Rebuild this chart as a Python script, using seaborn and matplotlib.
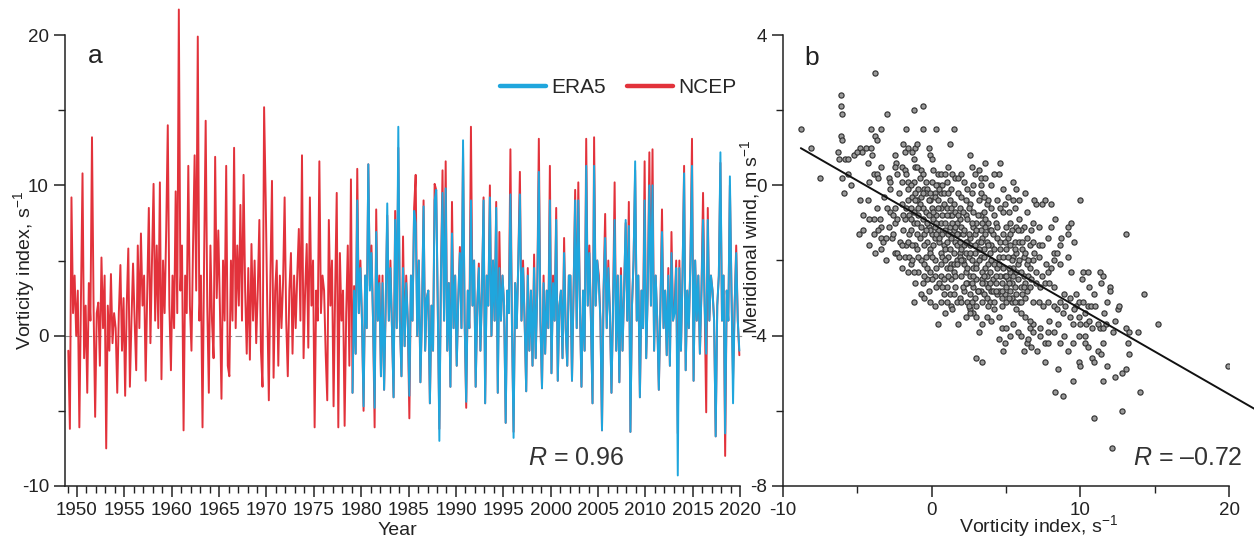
import matplotlib
matplotlib.use("Agg")
import matplotlib.pyplot as plt
from matplotlib.lines import Line2D
from matplotlib.ticker import MultipleLocator
import numpy as np
import seaborn as sns

sns.set_style("ticks")
plt.rcParams["font.family"] = ["Liberation Sans", "DejaVu Sans"]
plt.rcParams["axes.unicode_minus"] = False
plt.rcParams["mathtext.fontset"] = "custom"
plt.rcParams["mathtext.rm"] = "Liberation Sans"
plt.rcParams["mathtext.it"] = "Liberation Sans:italic"
plt.rcParams["mathtext.default"] = "regular"

RED = "#e2323b"
BLUE = "#1fa6dd"
INK = "#222222"

# vorticity index, six values per year, 1949-2019 (NCEP)
ncep_vort = [
    -1.0, -6.2, 9.2, 1.5, 4.0, 0.0,       3.0, -6.1, 2.5, 10.8, -1.5, 2.0,
    -3.8, 3.5, 1.0, 13.2, 2.0, -5.4,      1.5, 2.2, -2.0, 5.2, 0.5, 4.0,
    -7.5, 2.0, -1.0, 4.1, -0.5, 1.5,      0.5, -3.8, 1.5, 4.7, -1.0, 2.5,
    -4.0, 2.0, 5.8, -3.4, 1.0, 4.8,       1.0, -2.3, 6.0, 0.5, 6.8, 2.0,
    4.0, -3.0, 3.0, 8.5, -0.5, 5.0,       10.1, 1.0, 6.0, 0.5, 10.2, -2.9,
    5.0, 1.5, 7.0, 14.0, 2.0, -2.3,       4.0, 0.5, 9.6, 1.5, 21.7, 3.0,
    6.0, -6.3, 4.0, 1.5, 11.3, 2.0,       -1.0, 6.0, 12.0, 3.0, 19.9, 1.0,
    4.0, -6.1, 5.0, 14.3, 2.0, -3.8,      6.0, 1.0, -1.5, 11.9, 2.5, 7.0,
    2.0, -4.2, 5.0, 1.0, 11.3, -2.0,      -2.7, 5.0, 1.0, 12.5, 0.5, 6.0,
    2.0, 8.7, 1.0, 10.7, 3.0, -1.2,       4.5, -1.6, 6.1, 1.0, 5.0, -0.5,
    3.0, 7.7, -1.0, -3.4, 15.2, 9.2,      2.0, -4.3, 4.0, 10.3, -2.8, 3.0,
    5.0, -2.0, 4.0, 0.5, 3.5, 9.2,        1.0, -2.7, 3.0, 5.5, -1.2, 4.0,
    0.5, 4.0, 7.1, 1.0, 12.0, -1.5,       3.0, 6.1, -0.8, 9.2, 2.0, 5.0,
    -6.1, 3.0, 1.0, 11.6, 1.5, 4.0,       3.0, -1.2, -4.3, 7.7, 2.0, 5.0,
    -4.7, 3.0, 9.5, -6.1, 5.5, 1.0,       3.0, -6.0, 1.5, 6.0, -2.0, 10.4,
    -3.8, 3.3, -1.2, 11.1, 1.5, 5.0,      1.0, -5.0, 4.0, 0.5, 11.4, 3.3,
    6.0, 1.0, -6.1, 8.4, 1.0, 4.0,        -2.7, 4.0, -3.6, 2.0, 8.0, 1.0,
    5.0, 0.5, -4.1, 8.3, 0.5, 12.5,       1.0, -2.7, 6.6, -0.7, 4.0, 1.0,
    -5.5, 4.0, 1.0, 8.5, 10.7, 0.0,       5.0, -3.1, 1.5, 9.0, -1.0, 2.5,
    3.0, -4.5, 2.0, -1.0, 10.1, 9.7,      2.0, -6.2, 4.0, 11.0, 1.0, 11.6,
    -1.0, 3.5, -3.4, 8.9, 0.5, 4.0,       -2.0, 2.5, 5.9, 0.5, 12.5, 1.0,
    -4.8, 3.0, 0.5, 13.9, 2.0, 5.0,       -3.4, 2.0, 4.8, -1.0, 3.0, 9.2,
    -4.5, 4.0, 2.0, 10.0, 0.0, 5.0,       1.0, 8.9, -3.8, 6.9, 1.0, 4.0,
    2.0, -5.8, 3.0, 1.5, 12.4, 0.5,       -6.4, 3.5, 0.5, 5.0, 10.9, 1.0,
    5.0, 1.0, -3.7, 4.5, -1.0, 3.0,       -2.0, 5.4, -1.5, 3.0, 13.1, 1.0,
    -3.5, 4.0, -1.2, 3.0, 0.5, 11.3,      -2.5, 4.0, 1.0, 8.5, -3.0, 2.0,
    3.0, -1.5, 6.5, 0.5, -2.0, 4.0,       4.0, -3.0, 3.0, 9.7, 0.5, 10.2,
    2.0, -3.4, 3.0, -1.0, 13.1, 2.0,      6.0, 1.0, -4.5, 13.2, 2.0, 5.0,
    4.0, 1.0, -6.3, 3.0, 8.1, 0.5,        5.0, 1.5, -3.8, 2.0, 10.2, -1.0,
    4.0, -3.1, 4.5, -1.0, 3.0, 7.5,       1.0, 8.9, -6.4, 2.0, 5.0, 11.0,
    1.0, 4.0, -4.1, 3.0, 0.5, 11.6,       -1.5, 3.0, 12.2, 2.0, 12.4, -1.0,
    4.0, 1.0, -3.6, 2.0, 8.4, 0.5,        3.0, -1.3, 4.5, -2.0, 6.9, 1.0,
    2.0, 5.0, -6.5, 5.0, -1.0, 4.0,       11.3, -2.3, 3.0, 0.5, 5.0, 13.1,
    -3.0, 5.0, 1.0, 4.0, -1.2, 3.0,       9.5, 2.0, -5.1, 8.5, 1.0, 4.0,
    3.0, 1.0, -6.7, 2.0, 4.0, 11.5,       1.0, 4.0, -8.0, 3.0, 1.0, 10.0,
    3.0, -2.9, 2.0, 6.0, 1.0, -1.3,
]

# vorticity index, six values per year, 1979-2019 (ERA5)
era5_vort = [
    -3.8, 3.0, -1.2, 9.0, 1.5, 4.5,       1.0, -4.7, 4.0, 0.5, 11.4, 3.0,
    5.5, 1.0, -4.8, 6.9, 1.0, 3.5,        -2.7, 3.5, -3.6, 2.0, 8.8, 1.0,
    4.5, 0.5, -4.1, 7.7, 0.5, 13.9,       1.0, -2.7, 4.5, -0.7, 3.5, 1.0,
    -4.0, 4.0, 1.0, 8.3, 7.5, 0.0,        5.0, -3.1, 1.5, 8.6, -1.0, 2.5,
    3.0, -4.5, 2.0, -1.0, 9.0, 9.7,       2.0, -7.0, 4.0, 9.5, 1.0, 9.8,
    -1.0, 3.5, -3.4, 6.8, 0.5, 4.0,       -2.0, 2.5, 5.5, 0.5, 13.0, 1.0,
    -4.4, 3.0, 0.5, 9.0, 2.0, 5.0,        -3.4, 2.0, 4.5, -1.0, 3.0, 9.0,
    -4.5, 4.0, 2.0, 9.2, 0.0, 5.0,        1.0, 8.5, -3.8, 4.5, 1.0, 4.0,
    2.0, -5.8, 3.0, 1.5, 9.4, 0.5,        -6.8, 3.5, 0.5, 5.0, 9.4, 1.0,
    4.5, 1.0, -3.7, 4.0, -1.0, 3.0,       -2.0, 4.5, -1.5, 3.0, 10.9, 1.0,
    -3.5, 3.5, -1.2, 3.0, 0.5, 9.0,       -2.5, 3.5, 1.0, 7.7, -3.0, 2.0,
    3.0, -1.5, 5.5, 0.5, -2.0, 4.0,       4.0, -3.0, 3.0, 9.0, 0.5, 9.0,
    2.0, -3.4, 3.0, -1.0, 11.3, 2.0,      5.5, 1.0, -4.5, 11.3, 2.0, 5.0,
    3.5, 1.0, -6.3, 3.0, 6.5, 0.5,        4.5, 1.5, -3.8, 2.0, 7.7, -1.0,
    4.0, -3.1, 4.0, -1.0, 3.0, 7.7,       1.0, 7.3, -6.4, 2.0, 5.0, 11.6,
    1.0, 4.0, -4.1, 3.0, 0.5, 9.0,        -1.5, 3.0, 10.0, 2.0, 10.0, -1.0,
    4.0, 1.0, -3.6, 2.0, 6.9, 0.5,        3.0, -1.3, 4.0, -2.0, 5.5, 1.0,
    1.5, 4.5, -9.3, 4.5, -1.0, 4.0,       10.8, -2.3, 3.0, 0.5, 5.0, 11.3,
    -3.0, 5.0, 1.0, 4.0, -1.2, 3.0,       7.7, 2.0, -1.2, 7.7, 1.0, 4.0,
    3.0, 1.0, -6.7, 2.0, 4.0, 12.2,       1.0, 4.0, -6.5, 3.0, 1.0, 10.6,
    3.0, -4.5, 2.0, 5.5, 1.0, -1.0,
]

# panel b: vorticity index vs meridional wind
vort_b = [
    -8.8, -8.1, -7.5, -3.8, -6.1, -6.1, -6.0, -3.0, -1.2, -0.6,
    -4.1, -3.4, -1.7, -0.6, 0.3, 1.5, 1.2, -6.1, -6.0, -3.8,
    -3.7, -6.3, -6.2, -5.8, -5.6, -5.2, -4.8, -4.7, -5.0, -4.4,
    -4.1, -4.0, -4.3, -3.4, -3.9, -3.7, -3.6, -6.0, -5.6, -5.4,
    -5.9, -4.8, -4.3, -4.2, -3.2, -2.9, -2.8, -2.8, -2.5, -2.4,
    -2.5, -1.9, -1.8, -1.6, -1.3, -1.1, -1.0, -0.2, -0.1, 0.0,
    -2.0, -1.8, -1.7, -1.6, -2.0, -1.2, -1.1, -1.0, -0.7, -0.6,
    -0.8, -1.2, -1.4, -0.5, -0.3, 0.0, 0.4, 0.6, 0.9, 0.4,
    0.2, 0.7, 1.0, 1.4, 1.6, 1.8, 2.2, 2.4, 2.6, 2.7,
    3.2, 3.6, 3.3, 3.3, 3.6, 4.0, 4.5, 4.8, 5.5,
    -4.9, -4.6, -4.6, -3.9, -3.5, -3.4, -3.4, -3.3, -3.4, -3.1,
    -3.1, -2.8, -2.6, -2.5, -2.5, -3.0, -2.5, -2.3, -1.8, -1.7,
    -1.5, -1.4, -1.3, -1.6, -1.5, -1.4, -1.2, -1.0, -1.8, -1.7,
    -1.6, -1.4, -1.3, -1.0, -0.7, -0.4, -0.1, 0.2, 0.4, 0.6,
    -0.6, -0.4, -0.2, 0.0, 0.3, 0.6, 0.8, 1.0, -0.7, -0.5,
    -0.3, -0.1, 0.2, 0.4, 0.6, 0.9, 1.2, 1.4, 1.6, 1.8,
    2.0, -0.7, -0.4, -0.1, -1.1, -0.6, -0.7, 0.3, -0.2, 0.6,
    0.8, 1.0, 1.3, 1.5, 1.7, 1.9, 2.2, 2.4, 2.6, 2.8,
    3.0, 3.3, 3.5, 3.7, 2.6, 2.8, 3.2, 3.8, 4.4, 4.6,
    4.8, 4.9, 5.5, 5.9, 5.6, 5.9, 5.3, 5.0, 4.8, 4.3,
    3.9, 3.7, 3.5, 3.3, 3.0, 2.8, 2.6, 2.4, 2.2, 1.9,
    1.7, 1.3, 1.0, 1.4, 1.8, 0.4, -1.2, 3.0, 3.4, 2.6,
    2.8, 3.0, 3.4, 3.7, 4.2, 4.5, 4.7, 5.0, 4.9, 4.8,
    5.5, 6.0, 6.4, 6.7, 6.6, 6.5, 6.8, 7.3, 7.6, 7.8,
    7.6, 8.5, 8.3, 8.8, 9.5, 9.9, 10.0, 10.3, 10.5, 10.8,
    10.9, 11.2, 11.4, 11.5, 11.8, 11.5, 12.3, 12.8, 13.1, 12.8,
    10.9, 12.1, 14.0, 19.9, 14.3, 15.2, 10.0, 13.1, 8.3, 8.7,
    9.2, 9.4, 9.2, 9.6, 8.2, 8.4, 8.6, 9.2, 9.4, 10.2,
    10.5, 10.1, 11.3, 11.5, 11.4, 12.0, 12.0, 11.8, 12.5, 12.6,
    12.3, 11.7, 11.3, 10.8, 10.4, 10.0, 9.5, 9.3, 8.8, 8.6,
    8.9, 9.3, 9.7, 9.9, 9.7, 10.2, 10.5, 10.7, 11.0, 10.3,
    9.9, 11.2, 11.5, 13.1, 13.3, 13.9, 13.2, 13.3, 10.3, 9.9,
    9.5, 9.2, 8.6, 8.2, 7.8, 7.3, 6.8, 6.6, 6.3, 6.0,
    5.7, 5.4, 5.0, 4.7, 4.4, 4.0, 3.8, 3.6, 3.4, 6.8,
    7.2, 7.5, 7.8, 8.2, 8.4, 7.0, 7.3, 7.6, 7.9, 8.2,
    7.4, 7.7, 8.0, 8.2, 6.8, 7.2, 6.6, 6.8, 7.2, 6.4,
    6.7, 6.8, 7.4, 7.8, 6.2, 5.8, 5.5, 5.3, 6.2, 5.8,
    5.4, 5.0, 6.6, 6.4, 7.0, 7.4, 7.6, 8.0, 6.9, 5.7,
    6.2, 4.4, 4.6, 4.0, 4.5, 4.8, 5.0, 5.3, 5.6, 5.9,
    4.2, 4.4, 4.6, 3.8, 3.6, 3.4, 3.0, 2.8, 2.6, 2.4,
    2.0, 3.3, 3.5, 3.7, 3.9, 4.2, 3.8, 3.4, 2.9, 2.7,
    2.5, 2.6, 3.0, 5.4, 5.7, 5.9, 6.3, 6.4, 6.6, 6.0,
    4.9, 5.2, 5.5, 5.7, 3.8, 3.6, 3.3, 2.9, 2.6, 2.3,
    1.9, 1.7, 1.5, 1.3, 1.0, 0.8, 0.6, 0.5, 0.2, -0.1,
    -0.3, -0.5, 0.2, 0.6, 0.8, 1.0, 1.3, 1.5, 1.7, 1.9,
    2.3, 2.5, 1.9, 1.5, 1.2, 0.8, 0.5, 1.8, 2.3, 2.7,
    2.8, 3.3,
    -2.2, -2.0, -1.9, -2.1, -2.3, -1.2, -0.9, -0.8, -1.1, -0.9,
    -0.2, 0.0, 0.1, 0.3, 0.5, 0.7, 0.9, 1.1, 1.2, 1.4,
    1.6, 1.7, 2.1, 2.2, 2.0, 2.3, 2.5, 2.7, 2.9, 3.1,
    3.2, 3.4, 3.6, 3.9, 4.1, 4.2, 4.0, 3.5, 4.1, 4.3,
    4.7, 4.5, 4.9, 5.1, 5.3, 5.6, 5.1, 5.4, 5.7, 6.0,
    6.1, 6.3, 6.5, 6.1, 1.1, 1.2, 0.7, 0.3, 0.0, -0.3,
    -0.5, -0.9, -1.2, -1.6, -2.0, -2.7, -2.9, -3.7, -3.9, -4.2,
    -0.4, -0.9, -1.6, -2.3, 0.1, 1.1, 1.3, 2.0, 2.0, 2.9,
    4.2, 4.6, 5.1, 5.2, 6.4, 6.3, 7.2, 7.8, 8.0, 8.6,
    7.9, 8.5, 8.9, 9.0, 9.6, 10.6, 10.9, 10.6, 11.6, 12.2,
    3.1, 2.1, 1.6, 1.5, 0.9, 2.3, 3.2, 4.0, 4.5, 5.3,
    5.8, 6.2, 7.1, -0.1, 0.2, -0.5, 1.1, 0.3, -0.1, -1.1,
    -1.5, -1.3, -1.0, -0.8, -0.6, -0.5, -0.3, -0.2, -0.1, 0.1,
    0.1, 0.2, 0.4, 0.5, 0.7, 0.7, 0.9, 1.0, 1.1, 1.2,
    1.3, 1.4, 1.5, 1.6, 1.7, 1.8, 1.9, 2.0, 2.1, 2.1,
    2.2, 2.3, 2.4, 2.4, 2.5, 2.6, 2.7, 2.8, 2.9, 3.0,
    3.0, 3.1, 3.2, 3.3, 3.4, 3.4, 3.5, 3.6, 3.7, 3.8,
    3.9, 4.0, 4.0, 4.1, 4.2, 4.3, 4.4, 4.5, 4.6, 4.7,
    4.8, 4.9, 5.0, 5.1, 5.2, 5.3, 5.4, 5.5, 5.6, 5.7,
    5.8, 5.9, 6.0, 6.1, 6.2, 6.3, 6.5, 6.7, 6.9, 7.0,
    -0.9, -1.0, -0.4, 0.0, 0.3, 0.6, 0.9, 1.2, 1.6, 2.0,
    2.3, 2.7, 3.1, 3.5, 3.9, 4.3, 4.7, 5.2, 5.6, 6.0,
    -2.2, -1.9, -2.6, -3.6, -4.2, -3.8, -2.0, -1.4, -1.1, -0.6,
]
wind_b = [
    1.5, 1.0, 0.2, 3.0, 2.4, 2.1, 1.9, 1.9, 2.0, 2.1,
    1.5, 1.5, 1.5, 1.5, 1.5, 1.5, 1.1, 1.3, 1.2, 1.3,
    1.2, 0.9, 0.7, 0.7, 0.7, 0.8, 1.0, 0.9, 0.9, 1.0,
    1.0, 0.8, 0.6, 0.5, 0.3, 0.3, 0.2, 0.2, 0.3, 0.0,
    -0.2, -0.4, -0.4, 0.1, -0.3, 0.2, 0.1, -0.1, 0.8, 0.6,
    0.5, 1.1, 0.9, 1.0, 0.9, 1.0, 1.1, 1.0, 0.8, 0.7,
    0.5, 0.4, 0.3, 0.1, 0.1, 0.7, 0.5, 0.5, 0.4, 0.3,
    0.2, 0.1, 0.0, -0.1, -0.1, 0.1, 0.3, 0.3, 0.3, 0.0,
    -0.2, 0.0, 0.1, 0.3, 0.2, 0.2, 0.1, -0.1, 0.8, 0.5,
    0.4, 0.6, 0.2, 0.0, 0.2, 0.0, 0.3, -0.1, 0.1,
    -1.3, -1.2, -0.8, -0.9, -0.9, -1.1, -1.4, -1.5, -1.7, -1.4,
    -2.0, -0.7, -0.8, -1.0, -0.6, -0.6, -1.8, -1.8, -1.9, -1.6,
    -1.9, -2.1, -2.0, -1.5, -1.3, -1.2, -1.0, -1.0, -0.9, -0.6,
    -0.4, -0.6, -0.3, -0.4, -0.3, -0.2, -0.2, -0.3, -0.4, -0.2,
    -0.6, -0.7, -0.8, -0.6, -0.8, -0.6, -0.5, -0.6, -1.1, -1.3,
    -1.5, -1.7, -1.4, -1.2, -1.0, -1.0, -1.1, -1.3, -1.5, -1.3,
    -1.1, -2.0, -1.9, -1.8, -2.6, -2.6, -2.9, -2.7, -2.8, -2.4,
    -2.5, -2.2, -2.1, -2.1, -2.0, -1.8, -1.6, -1.5, -1.4, -1.1,
    -1.0, -0.8, -0.7, -0.5, -0.5, -0.7, -0.4, -0.4, -0.4, -0.6,
    -0.7, -0.5, -0.4, -0.4, -0.6, -0.9, -1.0, -1.1, -1.3, -1.0,
    -1.2, -1.5, -1.7, -1.9, -2.1, -2.2, -2.4, -2.6, -2.8, -3.0,
    -3.1, -3.2, -3.1, -3.3, -3.7, -3.7, -3.1, -4.6, -4.7, -3.3,
    -3.4, -3.5, -3.7, -3.5, -3.3, -3.5, -3.8, -3.8, -4.2, -4.4,
    -3.7, -4.0, -4.2, -4.3, -3.8, -4.1, -3.9, -4.0, -4.2, -4.2,
    -4.7, -4.9, -5.5, -5.6, -5.2, -4.7, -4.8, -4.2, -4.3, -4.6,
    -4.7, -4.4, -4.5, -4.2, -4.8, -5.2, -5.1, -5.0, -4.9, -6.0,
    -6.2, -7.0, -5.5, -4.8, -2.9, -3.7, -0.4, -1.3, -0.9, -1.4,
    -1.1, -1.0, -1.3, -1.5, -1.8, -1.8, -2.1, -1.9, -2.3, -2.3,
    -2.3, -2.5, -2.3, -2.4, -2.6, -2.7, -2.8, -3.1, -3.3, -3.2,
    -3.6, -3.7, -3.8, -3.8, -3.7, -3.7, -3.7, -3.5, -3.4, -3.1,
    -2.9, -3.0, -2.9, -3.1, -3.2, -3.1, -3.2, -3.2, -3.2, -3.4,
    -3.5, -3.7, -3.8, -3.8, -3.9, -3.9, -4.2, -4.5, -4.0, -4.0,
    -4.2, -4.4, -4.2, -3.9, -3.9, -3.8, -3.7, -3.6, -3.5, -3.4,
    -3.3, -3.1, -3.1, -3.0, -2.9, -2.8, -2.7, -2.6, -2.5, -3.1,
    -3.1, -3.2, -3.1, -3.2, -3.3, -2.6, -2.7, -2.6, -2.6, -2.7,
    -2.4, -2.1, -2.2, -2.0, -2.0, -1.9, -1.6, -1.5, -1.6, -1.4,
    -1.2, -1.0, -1.6, -1.4, -1.9, -2.1, -2.2, -2.3, -2.4, -2.5,
    -2.6, -2.7, -2.2, -2.1, -0.5, -0.5, -0.4, -0.5, -0.4, -0.1,
    -1.1, -1.4, -1.5, -1.6, -1.9, -1.9, -1.7, -1.6, -1.5, -1.5,
    -2.1, -2.2, -2.4, -2.1, -2.2, -2.3, -2.5, -2.7, -2.9, -3.1,
    -3.1, -2.8, -2.9, -3.0, -3.1, -3.1, -3.2, -3.1, -3.0, -3.1,
    -3.2, -3.4, -3.2, -3.0, -2.9, -3.1, -3.0, -2.8, -2.7, -2.7,
    -2.4, -2.2, -1.9, -1.8, -1.0, -1.1, -1.2, -1.3, -1.6, -1.8,
    -1.9, -2.1, -2.3, -2.5, -2.7, -2.9, -3.1, -2.6, -2.4, -2.3,
    -2.2, -2.1, -2.0, -1.8, -1.6, -1.5, -1.4, -1.2, -1.0, -0.9,
    -0.8, -0.6, -0.6, -0.5, -0.4, -0.2, -0.1, -0.2, -0.4, -0.2,
    0.0, -0.2,
    -0.2, -0.5, -1.2, -1.5, -0.9, -0.7, -0.8, -1.4, -1.6, -1.9,
    -1.1, -1.3, -0.9, -1.0, -1.5, -1.3, -1.7, -1.9, -0.8, -0.8,
    -0.7, -1.6, -1.3, -2.1, -2.4, -2.3, -1.9, -2.0, -1.8, -1.5,
    -1.7, -1.4, -1.3, -1.8, -1.3, -0.8, -0.6, -0.3, -2.5, -2.6,
    -2.6, -2.8, -2.9, -2.5, -2.8, -2.7, -1.4, -1.2, -1.1, -1.2,
    -1.7, -2.6, -2.4, -2.9, -2.4, -2.9, -2.7, -2.2, -2.5, -2.5,
    -2.4, -2.3, -2.3, -2.3, -2.2, -1.4, -1.1, -0.6, -1.3, -0.9,
    0.1, -0.1, -0.1, 0.3, 0.4, 0.5, -0.1, 0.3, -0.3, 0.3,
    0.3, 0.6, -0.3, -0.7, -0.7, -0.2, -1.1, -2.3, -1.1, -1.6,
    -3.6, -3.7, -4.0, -3.2, -3.3, -2.7, -2.9, -3.6, -3.4, -3.9,
    -2.8, -2.7, -2.7, -2.9, -3.4, -3.5, -3.9, -3.6, -4.1, -4.0,
    -3.9, -4.4, -4.4, -3.1, -3.2, -3.0, -0.2, 0.0, -0.4, -0.2,
    -0.8, -1.6, -1.3, -0.5, -0.9, -1.6, -1.0, -0.4, -1.2, -1.6,
    -0.7, -1.1, -0.6, -1.4, -0.8, -1.9, -1.2, -0.8, -1.3, -1.7,
    -0.6, -1.0, -1.8, -1.1, -1.3, -0.8, -1.5, -1.7, -0.7, -2.0,
    -1.2, -1.5, -0.9, -2.2, -1.3, -1.8, -1.0, -2.4, -1.6, -1.2,
    -2.2, -0.8, -2.0, -1.5, -1.0, -2.6, -1.9, -0.9, -2.4, -1.6,
    -2.3, -1.2, -2.0, -2.8, -1.7, -2.4, -1.1, -2.1, -1.7, -2.8,
    -2.2, -1.5, -2.4, -1.9, -2.6, -1.3, -2.0, -2.4, -1.7, -2.3,
    -1.2, -2.0, -2.3, -1.5, -2.7, -1.8, -2.0, -2.5, -1.8, -2.3,
    -0.6, -1.7, -1.2, -1.9, -1.3, -2.1, -2.0, -2.2, -2.4, -2.0,
    -2.6, -2.6, -2.8, -2.4, -2.6, -2.8, -3.2, -3.0, -3.1, -3.1,
    -1.9, -0.8, -1.3, -1.2, -1.6, -1.8, -1.6, -0.9, -0.4, -0.2,
]

ncep_time = 1949 + (np.arange(len(ncep_vort)) + 0.5) / 6
era5_time = 1979 + (np.arange(len(era5_vort)) + 0.5) / 6

fig = plt.figure(figsize=(12.54, 5.41), dpi=100)
ax1 = fig.add_axes([0.0518, 0.1017, 0.5407, 0.8835])
ax2 = fig.add_axes([0.6244, 0.1017, 0.3557, 0.8336])

# --- panel a: time series
ax1.axhline(0, color="#8f8f8f", lw=0.8, ls=(0, (6, 3)), zorder=0)
sns.lineplot(x=ncep_time, y=ncep_vort, ax=ax1, color=RED, linewidth=1.4)
sns.lineplot(x=era5_time, y=era5_vort, ax=ax1, color=BLUE, linewidth=1.4)
ax1.set_xlim(1948.73, 2020.3)
ax1.set_ylim(-10, 21.8)
ax1.set_xticks(range(1950, 2021, 5))
ax1.xaxis.set_minor_locator(MultipleLocator(1))
ax1.set_yticks([-10, 0, 10, 20])
ax1.yaxis.set_minor_locator(MultipleLocator(5))
sns.despine(ax=ax1)
ax1.spines["left"].set_bounds(-10, 20)
ax1.spines["bottom"].set_bounds(1948.73, 2020)
ax1.set_xlabel("Year", fontsize=14, color=INK)
ax1.set_ylabel("Vorticity index, s$^{-1}$", fontsize=14, color=INK)
ax1.xaxis.set_label_coords(0.49, -0.075)
ax1.yaxis.set_label_coords(-0.041, 0.45)
ax1.text(0.044, 0.90, "a", transform=ax1.transAxes, fontsize=19, color=INK,
         ha="center", va="center")
ax1.text(0.754, 0.059, "$\\mathit{R}$ = 0.96", transform=ax1.transAxes,
         fontsize=18, color="#333333", ha="center", va="center")
handles = [Line2D([], [], color=BLUE, lw=3.2), Line2D([], [], color=RED, lw=3.2)]
ax1.legend(handles, ["ERA5", "NCEP"], loc="center right", bbox_to_anchor=(0.99, 0.833),
           ncol=2, frameon=False, fontsize=15, handlelength=2.2, handletextpad=0.25,
           columnspacing=1.0, borderpad=0, borderaxespad=0)

# --- panel b: scatter
sns.scatterplot(x=vort_b, y=wind_b, ax=ax2, s=14, color="#9a9a9a",
                edgecolor="#333333", linewidth=0.85, zorder=3)
coef = np.polyfit(vort_b, wind_b, 1)
xs = np.array([min(vort_b), 21.7])
ax2.plot(xs, np.polyval(coef, xs), color="#111111", lw=1.4, zorder=4, clip_on=False)
ax2.set_xlim(-10, 20)
ax2.set_ylim(-8, 4)
ax2.set_xticks([-10, 0, 10, 20])
ax2.xaxis.set_minor_locator(MultipleLocator(5))
ax2.set_yticks([-8, -4, 0, 4])
ax2.yaxis.set_minor_locator(MultipleLocator(2))
sns.despine(ax=ax2)
ax2.set_xlabel("Vorticity index, s$^{-1}$", fontsize=14, color=INK)
ax2.set_ylabel("Meridional wind, m s$^{-1}$", fontsize=14, color=INK)
ax2.xaxis.set_label_coords(0.572, -0.060)
ax2.yaxis.set_label_coords(-0.047, 0.554)
ax2.text(0.065, 0.949, "b", transform=ax2.transAxes, fontsize=19, color=INK,
         ha="center", va="center")
ax2.text(0.908, 0.062, "$\\mathit{R}$ = \u20130.72", transform=ax2.transAxes,
         fontsize=18, color="#333333", ha="center", va="center")

for ax in (ax1, ax2):
    for side in ("left", "bottom"):
        ax.spines[side].set_linewidth(1.1)
        ax.spines[side].set_color(INK)
    ax.tick_params(which="major", length=8, width=1.1, color=INK,
                   labelsize=13.5, labelcolor=INK, direction="out")
    ax.tick_params(which="minor", length=5, width=1.0, color=INK, direction="out")

fig.savefig("out.png", dpi=100)
